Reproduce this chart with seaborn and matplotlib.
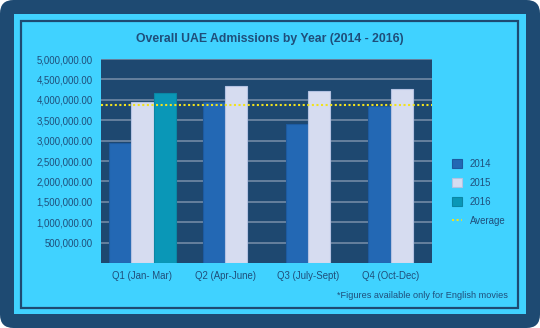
import matplotlib
matplotlib.use("Agg")
import matplotlib.pyplot as plt
import seaborn as sns
import pandas as pd
from matplotlib.patches import FancyBboxPatch, Rectangle, Patch
from matplotlib.lines import Line2D

# ---- data ----
categories = ["Q1 (Jan- Mar)", "Q2 (Apr-June)", "Q3 (July-Sept)", "Q4 (Oct-Dec)"]
years = ["2014", "2015", "2016"]
v2014 = [2950000, 3940000, 3410000, 3860000]
v2015 = [3950000, 4340000, 4220000, 4270000]
v2016 = [4170000, None, None, None]
average = 3880000
yticks = [500000, 1000000, 1500000, 2000000, 2500000, 3000000,
          3500000, 4000000, 4500000, 5000000]
title = "Overall UAE Admissions by Year (2014 - 2016)"
footnote = "*Figures available only for English movies"

# ---- style ----
NAVY = "#1e4870"
CYAN = "#40d2ff"
TEXT = "#1f4e7a"
colors = {"2014": "#2368b4", "2015": "#d6dcf0", "2016": "#0a97b7"}
edges = {"2014": "#1d5aa0", "2015": "#b4c2e2", "2016": "#0a86a4"}
GRID = "#7189a6"
YELLOW = "#f2e21e"

sns.set_theme(style="white")
plt.rcParams["font.family"] = ["Liberation Sans", "DejaVu Sans"]

rows = []
for i, c in enumerate(categories):
    for y, vals in zip(years, [v2014, v2015, v2016]):
        if vals[i] is not None:
            rows.append({"Quarter": c, "Year": y, "Value": vals[i]})
df = pd.DataFrame(rows)

W, H = 540, 328
fig = plt.figure(figsize=(W / 100, H / 100), dpi=100)
fig.patch.set_facecolor("white")

# outer rounded navy frame
fig.patches.append(FancyBboxPatch((0, 0), 1, 1, boxstyle="round,pad=0,rounding_size=0.025",
                                  transform=fig.transFigure, facecolor="#1e4a72",
                                  edgecolor="none", zorder=-10, mutation_aspect=W / H))
# cyan panel
fig.patches.append(Rectangle((13.5 / W, 1 - 313.5 / H), (526 - 13.5) / W, (313.5 - 13.5) / H,
                             transform=fig.transFigure, facecolor=CYAN, edgecolor="none", zorder=-9))
# inner frame line
fig.patches.append(Rectangle((21 / W, 1 - 307.5 / H), (517.5 - 21) / W, (307.5 - 21) / H,
                             transform=fig.transFigure, facecolor="none", edgecolor="#1e4a72",
                             linewidth=1.6, zorder=-8))

left, right, top, bottom = 101, 432, 59, 263
ax = fig.add_axes([left / W, 1 - bottom / H, (right - left) / W, (bottom - top) / H])
ax.set_facecolor(NAVY)

for c in categories:
    sub = df[df["Quarter"] == c]
    present = [y for y in years if y in set(sub["Year"])]
    sns.barplot(data=sub, x="Quarter", y="Value", hue="Year", order=categories,
                hue_order=present, palette=[colors[y] for y in present],
                width=0.27 * len(present), saturation=1, legend=False, ax=ax,
                errorbar=None, zorder=3)

# bar edges
for p in ax.patches:
    fc = matplotlib.colors.to_hex(p.get_facecolor())
    for y in years:
        if fc == colors[y]:
            p.set_edgecolor(edges[y])
            p.set_linewidth(0.8)

ax.axhline(average, color=YELLOW, linestyle=(0, (1, 1.2)), linewidth=1.5, zorder=5)

ax.set_ylim(0, 5000000)
ax.set_xlim(-0.5, len(categories) - 0.5)
ax.set_yticks(yticks)
ax.set_yticklabels([f"{v:,.2f}" for v in yticks])
ax.yaxis.grid(True, color=GRID, linewidth=1.2, zorder=0)
ax.set_axisbelow(True)
ax.tick_params(axis="both", length=0, labelsize=6.9, colors=TEXT)
ax.tick_params(axis="y", pad=6)
ax.tick_params(axis="x", pad=6)
ax.set_xlabel("")
ax.set_ylabel("")
for s in ax.spines.values():
    s.set_visible(False)

fig.text(0.5, 1 - 39 / H, title, ha="center", va="center", fontsize=8.8,
         fontweight="bold", color=TEXT)
fig.text(508 / W, 1 - 295 / H, footnote, ha="right", va="center", fontsize=6.6, color=TEXT)

handles = [Patch(facecolor=colors[y], edgecolor=edges[y], linewidth=0.8, label=y) for y in years]
handles.append(Line2D([0], [0], color=YELLOW, linestyle=(0, (1, 1.2)), linewidth=1.5, label="Average"))
leg = fig.legend(handles=handles, loc="upper left", bbox_to_anchor=(448 / W, 1 - 155 / H),
                 frameon=False, fontsize=6.9, handlelength=1.1, handleheight=1.1,
                 handletextpad=0.8, labelspacing=0.95, borderaxespad=0)
for t in leg.get_texts():
    t.set_color(TEXT)

fig.savefig("out.png", dpi=100, facecolor="white")
